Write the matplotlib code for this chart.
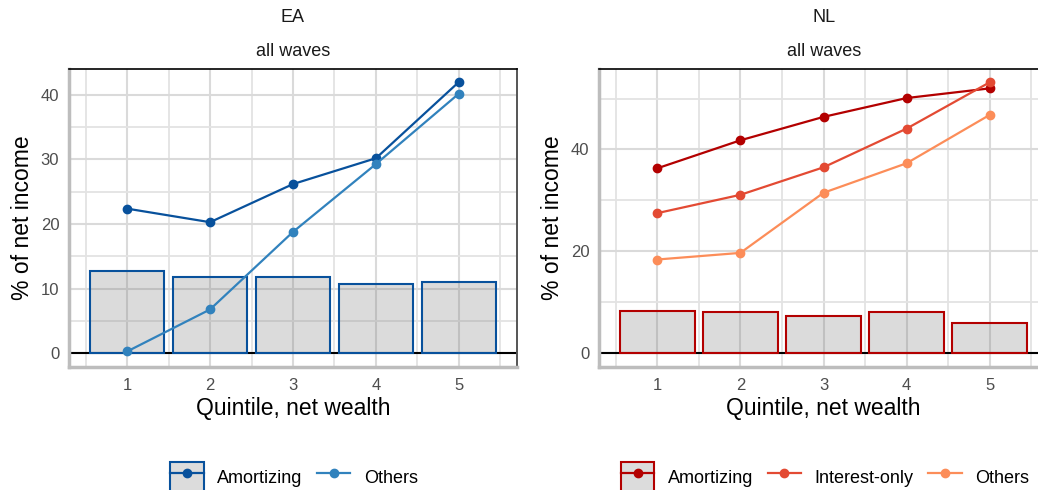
import numpy as np
import matplotlib.pyplot as plt
from matplotlib.patches import Patch
from matplotlib.lines import Line2D
from matplotlib.legend_handler import HandlerTuple

plt.rcParams['font.family'] = ['Liberation Sans', 'DejaVu Sans']

quintiles = [1, 2, 3, 4, 5]

# EA
ea_bars = [12.7, 11.9, 11.8, 10.8, 11.0]
ea_amort = [22.4, 20.3, 26.2, 30.2, 42.0]
ea_others = [0.3, 6.8, 18.8, 29.3, 40.2]

# NL
nl_bars = [8.2, 8.1, 7.3, 8.0, 5.9]
nl_amort = [36.3, 41.8, 46.4, 50.1, 52.0]
nl_io = [27.5, 31.1, 36.5, 44.1, 53.2]
nl_others = [18.4, 19.7, 31.5, 37.3, 46.8]

W, H = 1038, 490
fig = plt.figure(figsize=(W / 100, H / 100), dpi=100)


def px_axes(left, right, top, bottom):
    return fig.add_axes([left / W, 1 - bottom / H, (right - left) / W, (bottom - top) / H])


def style_axes(ax, ylim, major, minor):
    ax.set_xlim(0.3, 5.7)
    ax.set_ylim(*ylim)
    ax.set_xticks(quintiles)
    ax.set_xticks(np.arange(0.5, 6.0, 1.0), minor=True)
    ax.set_yticks(major)
    ax.set_yticks(minor, minor=True)
    ax.grid(which='major', color='#dadada', lw=1.5, zorder=0)
    ax.grid(which='minor', color='#e3e3e3', lw=1.3, zorder=0)
    ax.set_axisbelow(True)
    ax.tick_params(which='both', length=0, labelsize=12, labelcolor='#4d4d4d')
    ax.tick_params(axis='y', pad=7)
    ax.tick_params(axis='x', pad=8)
    ax.spines['left'].set_color('#bdbdbd')
    ax.spines['left'].set_linewidth(2.5)
    ax.spines['bottom'].set_color('#bdbdbd')
    ax.spines['bottom'].set_linewidth(2.5)
    ax.spines['top'].set_color('black')
    ax.spines['top'].set_linewidth(1.2)
    ax.spines['right'].set_color('#555555')
    ax.spines['right'].set_linewidth(1.4)
    ax.axhline(0, color='black', lw=1.5, zorder=1)
    ax.set_xlabel('Quintile, net wealth', fontsize=16.5, labelpad=3)
    ax.set_ylabel('% of net income', fontsize=16.5, labelpad=5)


def panel(ax, bars, series, colors, edge):
    ax.bar(quintiles, bars, width=0.9, facecolor=(0.5, 0.5, 0.5, 0.28),
           edgecolor=edge, lw=1.5, zorder=2)
    for vals, c in zip(series, colors):
        ax.plot(quintiles, vals, color=c, lw=1.6, marker='o', ms=6, zorder=3)


# EA panel
ax1 = px_axes(69, 517, 69, 367)
style_axes(ax1, (-2.1, 44.0), [0, 10, 20, 30, 40], [5, 15, 25, 35])
ea_cols = ['#08519c', '#3182bd']
panel(ax1, ea_bars, [ea_amort, ea_others], ea_cols, '#08519c')
fig.text(293 / W, 1 - 17 / H, 'EA', ha='center', va='center', fontsize=13, color='#1a1a1a')
fig.text(293 / W, 1 - 51 / H, 'all waves', ha='center', va='center', fontsize=13, color='#1a1a1a')

# NL panel
ax2 = px_axes(599, 1048, 69, 367)
style_axes(ax2, (-2.7, 55.8), [0, 20, 40], [10, 30, 50])
nl_cols = ['#b30000', '#e34a33', '#fc8d59']
panel(ax2, nl_bars, [nl_amort, nl_io, nl_others], nl_cols, '#b30000')
fig.text(824 / W, 1 - 17 / H, 'NL', ha='center', va='center', fontsize=13, color='#1a1a1a')
fig.text(824 / W, 1 - 51 / H, 'all waves', ha='center', va='center', fontsize=13, color='#1a1a1a')


def key(c, box=None):
    ln = Line2D([], [], color=c, lw=1.6, marker='o', ms=6)
    if box is None:
        return ln
    p = Patch(facecolor='#dcdcdc', edgecolor=box, lw=1.5)
    return (p, ln)


leg_kw = dict(loc='center', ncol=3, frameon=False, fontsize=13, handlelength=1.85,
              handleheight=2.1, handletextpad=0.75, columnspacing=0.8,
              handler_map={tuple: HandlerTuple(ndivide=1, pad=0)})

fig.legend([key(ea_cols[0], '#08519c'), key(ea_cols[1])], ['Amortizing', 'Others'],
           bbox_to_anchor=(294 / W, 1 - 477 / H), **leg_kw)
fig.legend([key(nl_cols[0], '#b30000'), key(nl_cols[1]), key(nl_cols[2])],
           ['Amortizing', 'Interest-only', 'Others'],
           bbox_to_anchor=(825 / W, 1 - 477 / H), **leg_kw)

fig.savefig('out.png', dpi=100)
